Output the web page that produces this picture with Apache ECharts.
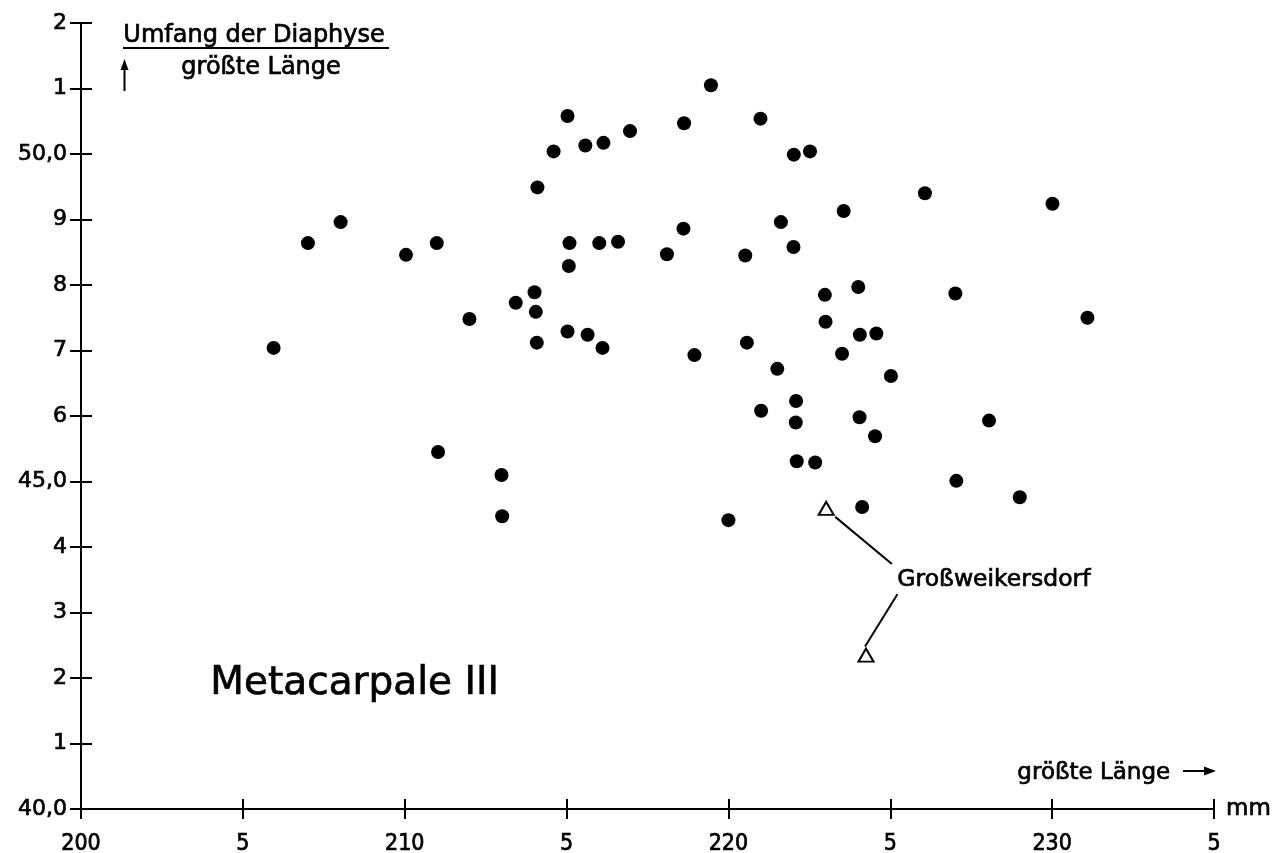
<!DOCTYPE html>
<html>
<head>
<meta charset="utf-8">
<style>
  html, body { margin: 0; padding: 0; background: #fff; }
  #chart { width: 1273px; height: 853px; }
</style>
<script src="https://cdn.jsdelivr.net/npm/echarts@6/dist/echarts.min.js"></script>
</head>
<body>
<div id="chart"></div>
<script>
// ---- data ----
const xTickLabels = ['200', '5', '210', '5', '220', '5', '230', '5'];
const yTickLabels = ['40,0', '1', '2', '3', '4', '45,0', '6', '7', '8', '9', '50,0', '1', '2'];

// größte Länge (mm)
const xValues = [
  205.95, 207.01, 208.02, 210.04, 210.99, 211.03, 212.00, 212.99, 213.01, 213.43,
  214.01, 214.05, 214.08, 214.10, 214.60, 215.03, 215.09, 215.07, 215.03, 215.58,
  215.65, 216.01, 216.14, 216.11, 216.59, 216.96, 218.10, 218.63, 218.61, 218.95,
  219.46, 220.00, 220.52, 220.57, 220.99, 221.01, 221.51, 221.62, 222.01, 222.02,
  222.09, 222.08, 222.11, 222.52, 222.68, 222.98, 223.00, 223.51, 223.56, 224.01,
  224.06, 224.05, 224.13, 224.57, 224.53, 225.02, 226.07, 227.01, 227.04, 228.05,
  229.00, 230.01, 231.09
];
// Umfang der Diaphyse / größte Länge
const yValues = [
  47.04, 48.64, 48.96, 48.46, 48.64, 45.45, 47.48, 45.10, 44.47, 47.73,
  47.89, 47.59, 47.12, 49.49, 50.04, 50.58, 48.64, 48.29, 47.29, 50.13,
  47.24, 48.64, 50.17, 47.04, 48.66, 50.35, 48.47, 50.47, 48.86, 46.93,
  51.05, 44.41, 48.45, 47.12, 50.54, 46.08, 46.72, 48.96, 48.58, 49.99,
  46.23, 45.90, 45.31, 50.04, 45.29, 47.85, 47.44, 46.95, 49.13, 47.97,
  47.24, 45.98, 44.61, 47.26, 45.69, 46.61, 49.40, 47.87, 45.01, 45.93,
  44.76, 49.24, 47.50
];
// Großweikersdorf
const gwX = [223.02, 224.25];
const gwY = [44.59, 42.35];
const gwLabel = 'Großweikersdorf';
// leader lines (data coordinates)
const leader1 = [[223.30, 44.46], [225.05, 43.74]];
const leader2 = [[225.22, 43.28], [224.22, 42.48]];

const chart = echarts.init(document.getElementById('chart'), null, { renderer: 'canvas' });

const INK = '#000';
const TB = 0.7; // slight stroke to thicken the lettering
const gridBox = { left: 81, top: 23, width: 1133, height: 786, containLabel: false, outerBoundsMode: 'none' };

const baseX = {
  type: 'value', min: 200, max: 235, interval: 5,
  splitLine: { show: false }
};
const baseY = {
  type: 'value', min: 40, max: 52, interval: 1,
  splitLine: { show: false }
};

function txt(text, left, top, size) {
  return {
    type: 'text', left: left, top: top,
    style: {
      text: text, fill: INK, stroke: INK, lineWidth: TB,
      font: size + 'px "DejaVu Sans", sans-serif'
    }
  };
}

const option = {
  backgroundColor: '#fff',
  animation: false,
  grid: [
    Object.assign({}, gridBox),
    Object.assign({}, gridBox)
  ],
  xAxis: [
    Object.assign({}, baseX, {
      gridIndex: 0,
      position: 'bottom',
      name: 'mm',
      nameLocation: 'end',
      nameGap: 12,
      nameTextStyle: {
        color: INK, fontSize: 23, fontFamily: 'DejaVu Sans', verticalAlign: 'middle',
        textBorderColor: INK, textBorderWidth: TB
      },
      axisLine: { show: true, onZero: false, lineStyle: { color: INK, width: 2 } },
      axisTick: { show: true, inside: false, length: 10, lineStyle: { color: INK, width: 2 } },
      axisLabel: {
        show: true, margin: 24, color: INK, fontSize: 23,
        fontFamily: '"DejaVu Sans Condensed", "Liberation Sans Narrow", "DejaVu Sans", sans-serif',
        textBorderColor: INK, textBorderWidth: TB,
        showMinLabel: true, showMaxLabel: true,
        formatter: v => xTickLabels[Math.round((v - 200) / 5)]
      }
    }),
    Object.assign({}, baseX, {
      gridIndex: 1,
      position: 'bottom',
      axisLine: { show: false, onZero: false },
      axisTick: { show: true, inside: true, length: 10, lineStyle: { color: INK, width: 2 } },
      axisLabel: { show: false }
    })
  ],
  yAxis: [
    Object.assign({}, baseY, {
      gridIndex: 0,
      position: 'left',
      axisLine: { show: true, onZero: false, lineStyle: { color: INK, width: 2 } },
      axisTick: { show: true, inside: false, length: 11, lineStyle: { color: INK, width: 2 } },
      axisLabel: {
        show: true, margin: 14, color: INK, fontSize: 22,
        fontFamily: '"DejaVu Sans", sans-serif',
        textBorderColor: INK, textBorderWidth: TB,
        showMinLabel: true, showMaxLabel: true,
        formatter: v => yTickLabels[Math.round(v - 40)]
      }
    }),
    Object.assign({}, baseY, {
      gridIndex: 1,
      position: 'left',
      axisLine: { show: false, onZero: false },
      axisTick: { show: true, inside: true, length: 11, lineStyle: { color: INK, width: 2 } },
      axisLabel: { show: false }
    })
  ],
  series: [
    {
      name: 'Metacarpale III',
      type: 'scatter',
      xAxisIndex: 0, yAxisIndex: 0,
      symbol: 'circle',
      symbolSize: 14,
      itemStyle: { color: INK, opacity: 1 },
      data: xValues.map((x, i) => [x, yValues[i]]),
      z: 3
    },
    {
      name: gwLabel,
      type: 'scatter',
      xAxisIndex: 0, yAxisIndex: 0,
      symbol: 'triangle',
      symbolSize: [15, 13],
      itemStyle: { color: '#fff', borderColor: INK, borderWidth: 2, opacity: 1 },
      data: gwX.map((x, i) => [x, gwY[i]]),
      markLine: {
        silent: true,
        symbol: ['none', 'none'],
        label: { show: false },
        lineStyle: { color: INK, width: 2, type: 'solid' },
        data: [
          [{ coord: leader1[0] }, { coord: leader1[1] }],
          [{ coord: leader2[0] }, { coord: leader2[1] }]
        ]
      },
      z: 4
    }
  ],
  graphic: [
    // y-axis caption (fraction)
    txt('Umfang der Diaphyse', 123, 23, 24),
    {
      type: 'line',
      shape: { x1: 123, y1: 48, x2: 389, y2: 48 },
      style: { stroke: INK, lineWidth: 2 }
    },
    txt('größte Länge', 181, 55, 24),
    // upward arrow
    {
      type: 'line',
      shape: { x1: 124.5, y1: 91, x2: 124.5, y2: 68 },
      style: { stroke: INK, lineWidth: 2 }
    },
    {
      type: 'polygon',
      shape: { points: [[124.5, 59], [120.5, 70], [128.5, 70]] },
      style: { fill: INK }
    },
    // x-axis caption
    txt('größte Länge', 1017, 761, 23),
    {
      type: 'line',
      shape: { x1: 1183, y1: 771, x2: 1206, y2: 771 },
      style: { stroke: INK, lineWidth: 2 }
    },
    {
      type: 'polygon',
      shape: { points: [[1216, 771], [1204, 766.5], [1204, 775.5]] },
      style: { fill: INK }
    },
    // Großweikersdorf label
    txt(gwLabel, 897, 568, 23.5),
    // chart title
    txt('Metacarpale III', 210, 664, 39)
  ]
};

chart.setOption(option);
</script>
</body>
</html>
